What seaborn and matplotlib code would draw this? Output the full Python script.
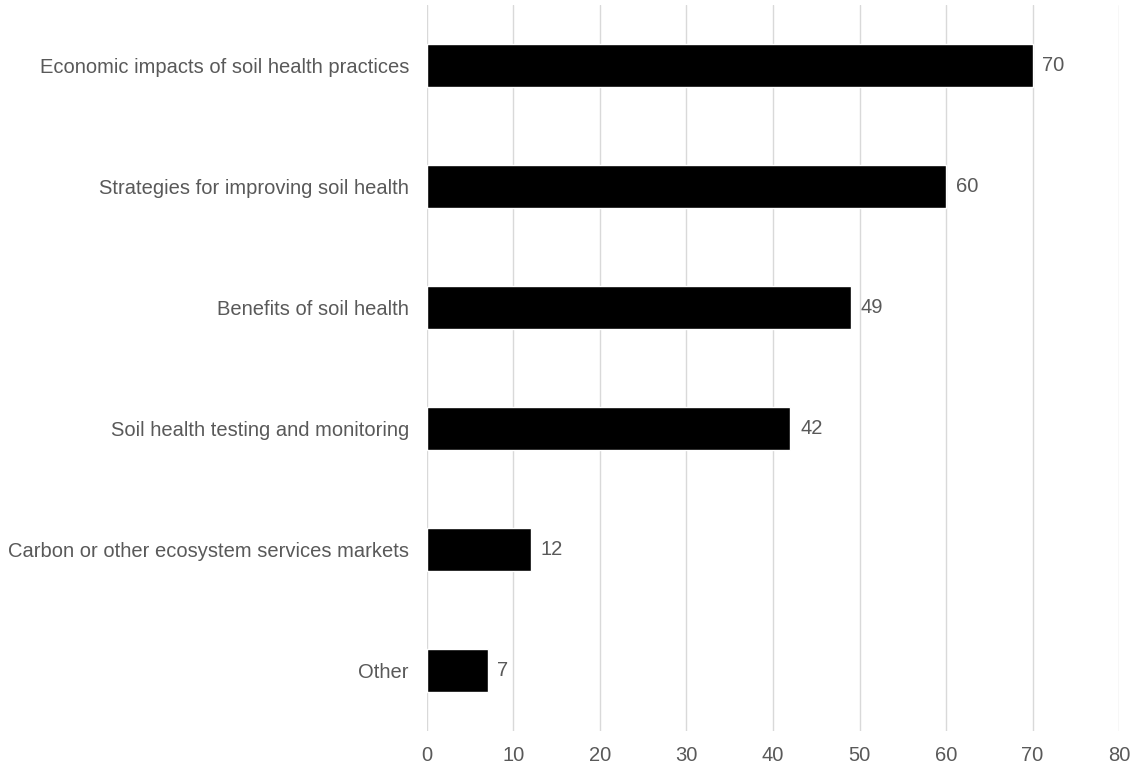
import matplotlib
matplotlib.use("Agg")
import matplotlib.pyplot as plt
import seaborn as sns
import pandas as pd

categories = [
    "Economic impacts of soil health practices",
    "Strategies for improving soil health",
    "Benefits of soil health",
    "Soil health testing and monitoring",
    "Carbon or other ecosystem services markets",
    "Other",
]
values = [70, 60, 49, 42, 12, 7]
x_ticks = [0, 10, 20, 30, 40, 50, 60, 70, 80]

df = pd.DataFrame({"category": categories, "value": values})

sns.set_theme(style="white")
plt.rcParams["font.family"] = ["Liberation Sans", "DejaVu Sans"]
text_color = "#595959"

fig = plt.figure(figsize=(11.37, 7.71), dpi=100)
ax = fig.add_axes([0.3755, 0.0519, 0.9842 - 0.3755, 0.9935 - 0.0519])

sns.barplot(data=df, x="value", y="category", orient="h", color="black",
            width=0.355, ax=ax, saturation=1, order=categories)

ax.set_xlim(0, 80)
ax.set_ylim(len(categories) - 0.5, -0.5)
ax.set_xticks(x_ticks)
ax.xaxis.grid(True, color="#d9d9d9", linewidth=1.0)
ax.yaxis.grid(False)
ax.set_axisbelow(True)
for s in ax.spines.values():
    s.set_visible(False)
ax.set_xlabel("")
ax.set_ylabel("")
ax.tick_params(axis="both", length=0, labelsize=14.5, colors=text_color)
ax.tick_params(axis="y", pad=13)
ax.tick_params(axis="x", pad=11)

for c in ax.containers:
    ax.bar_label(c, labels=[str(v) for v in values], padding=7, fontsize=14.5, color=text_color)

fig.savefig("out.png", dpi=100)
